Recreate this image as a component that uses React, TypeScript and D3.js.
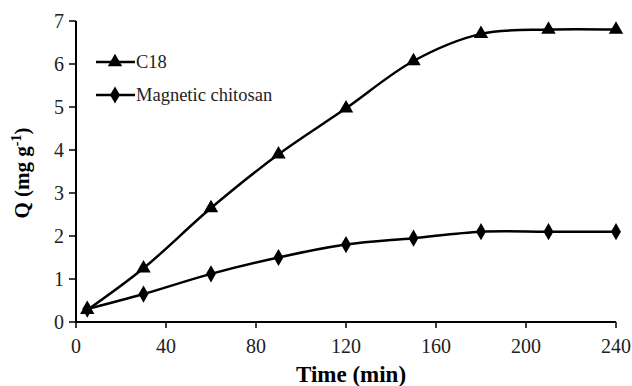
import { scaleLinear, line, curveCatmullRom, symbol, symbolTriangle, symbolDiamond } from "d3"

const times = [5, 30, 60, 90, 120, 150, 180, 210, 240]
const c18 = [0.28, 1.25, 2.65, 3.9, 4.97, 6.07, 6.7, 6.8, 6.8]
const chitosan = [0.3, 0.65, 1.12, 1.5, 1.8, 1.95, 2.1, 2.1, 2.1]
const xTicks = [0, 40, 80, 120, 160, 200, 240]
const yTicks = [0, 1, 2, 3, 4, 5, 6, 7]

const width = 632
const height = 386
const font = "'Liberation Serif', 'Times New Roman', serif"

export default function App() {
  const x = scaleLinear().domain([0, 240]).range([76, 616])
  const y = scaleLinear().domain([0, 7]).range([322, 21])

  const lineGen = line<number>()
    .x((_, i) => x(times[i]))
    .y((d) => y(d))
    .curve(curveCatmullRom.alpha(0.5))

  const tri = symbol().type(symbolTriangle).size(90)()
  const dia = symbol().type(symbolDiamond).size(85)()

  const series = [
    { name: "C18", values: c18, marker: tri },
    { name: "Magnetic chitosan", values: chitosan, marker: dia },
  ]

  return (
    <div style={{ position: "absolute", left: 0, top: 0 }}>
      <svg width={width} height={height} style={{ display: "block", background: "#fff" }}>
        {/* axes */}
        <line x1={x(0)} x2={x(0)} y1={y(7)} y2={y(0)} stroke="#000" strokeWidth={2} />
        <line x1={x(0) - 1} x2={x(240)} y1={y(0)} y2={y(0)} stroke="#000" strokeWidth={2} />
        {yTicks.map((t) => (
          <g key={t}>
            <line x1={x(0) - 7} x2={x(0)} y1={y(t)} y2={y(t)} stroke="#000" strokeWidth={1.5} />
            <text
              x={x(0) - 12}
              y={y(t)}
              dy="0.35em"
              textAnchor="end"
              fontFamily={font}
              fontSize={20}
              fill="#222"
            >
              {t}
            </text>
          </g>
        ))}
        {xTicks.map((t) => (
          <g key={t}>
            <line x1={x(t)} x2={x(t)} y1={y(0)} y2={y(0) + 6} stroke="#000" strokeWidth={1.5} />
            <text
              x={x(t)}
              y={353}
              textAnchor="middle"
              fontFamily={font}
              fontSize={20}
              fill="#222"
            >
              {t}
            </text>
          </g>
        ))}

        {/* axis titles */}
        <text
          x={351}
          y={382}
          textAnchor="middle"
          fontFamily={font}
          fontSize={23}
          fontWeight="bold"
        >
          Time (min)
        </text>
        <text
          transform={`translate(29,173) rotate(-90)`}
          textAnchor="middle"
          fontFamily={font}
          fontSize={21}
          fontWeight="bold"
        >
          Q (mg g
          <tspan dy={-8} fontSize={14}>-1</tspan>
          <tspan dy={8}>)</tspan>
        </text>

        {/* series */}
        {series.map((s) => (
          <g key={s.name}>
            <path d={lineGen(s.values) || undefined} fill="none" stroke="#000" strokeWidth={2.5} />
            {s.values.map((v, i) => (
              <path key={i} d={s.marker || undefined} transform={`translate(${x(times[i])},${y(v)})`} fill="#000" />
            ))}
          </g>
        ))}

        {/* legend */}
        {series.map((s, i) => {
          const ly = 62 + i * 33
          return (
            <g key={s.name}>
              <line x1={96} x2={135} y1={ly} y2={ly} stroke="#000" strokeWidth={2.5} />
              <path d={s.marker || undefined} transform={`translate(115,${ly})`} fill="#000" />
              <text x={136} y={ly} dy="0.35em" fontFamily={font} fontSize={18.5} fill="#222">
                {s.name}
              </text>
            </g>
          )
        })}
      </svg>
    </div>
  )
}
